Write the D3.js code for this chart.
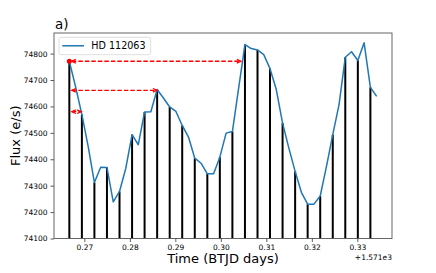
<!DOCTYPE html>
<html>
<head>
<meta charset="utf-8">
<script src="https://cdn.jsdelivr.net/npm/d3@7/dist/d3.min.js"></script>
<style>
   body { margin: 0; background: #fff; }
   text { font-family: "DejaVu Sans", sans-serif; }
</style>
</head>
<body>
<svg id="chart" width="436" height="273"></svg>
<script>
   'use strict';

   // time offset from BTJD 1571 (days)
   const times = [
      0.26670, 0.26808, 0.26946, 0.27084, 0.27221, 0.27359, 0.27497, 0.27635, 0.27773, 0.27911,
      0.28049, 0.28186, 0.28324, 0.28462, 0.28600, 0.28738, 0.28876, 0.29013, 0.29151, 0.29289,
      0.29427, 0.29565, 0.29703, 0.29841, 0.29978, 0.30116, 0.30254, 0.30392, 0.30530, 0.30668,
      0.30806, 0.30943, 0.31081, 0.31219, 0.31357, 0.31495, 0.31633, 0.31770, 0.31908, 0.32046,
      0.32184, 0.32322, 0.32460, 0.32598, 0.32735, 0.32873, 0.33011, 0.33149, 0.33287, 0.33425
   ];

   const flux = [
      74771, 74674, 74569, 74449, 74312, 74370, 74369, 74239, 74278, 74366,
      74493, 74455, 74579, 74580, 74664, 74632, 74598, 74581, 74528, 74484,
      74404, 74385, 74345, 74345, 74408, 74499, 74505, 74670, 74834, 74819,
      74814, 74796, 74743, 74664, 74537, 74442, 74354, 74275, 74230, 74230,
      74261, 74373, 74493, 74607, 74786, 74807, 74774, 74841, 74672, 74638
   ];

   // dashed double arrows: start time, end time, flux level
   const arrows = [
      [0.26670, 0.30494, 74771],
      [0.26670, 0.28650, 74661],
      [0.26670, 0.26985, 74580]
   ];

   const xTicks = [0.27, 0.28, 0.29, 0.30, 0.31, 0.32, 0.33];
   const yTicks = [74100, 74200, 74300, 74400, 74500, 74600, 74700, 74800];
   const seriesName = 'HD 112063';

   const svg = d3.select('#chart'),
      mLeft = 54, mRight = 392, mTop = 33, mBottom = 238.5;

   const x = d3.scaleLinear().domain([0.26333, 0.33762]).range([mLeft, mRight]);
   const y = d3.scaleLinear().domain([74100, 74878]).range([mBottom, mTop]);

   // sampling stems, every other point
   svg.append('g').selectAll('line')
      .data(times.map((t, i) => [t, flux[i]]).filter((d, i) => i % 2 === 0))
      .enter().append('line')
      .attr('x1', d => x(d[0])).attr('x2', d => x(d[0]))
      .attr('y1', y(74100)).attr('y2', d => y(d[1]))
      .attr('stroke', '#000').attr('stroke-width', 2);

   const line = d3.line().x((d, i) => x(times[i])).y(d => y(d));
   svg.append('path').datum(flux)
      .attr('d', line)
      .attr('fill', 'none')
      .attr('stroke', '#1f77b4')
      .attr('stroke-width', 1.5)
      .attr('stroke-linejoin', 'round');

   // arrows
   const red = '#ff0000', shrink = 2.5, head = 4;
   const ag = svg.append('g');
   arrows.forEach(function (a) {
      const x1 = x(a[0]) + shrink, x2 = x(a[1]) - shrink, yy = y(a[2]);
      ag.append('line')
         .attr('x1', x1).attr('x2', x2).attr('y1', yy).attr('y2', yy)
         .attr('stroke', red).attr('stroke-width', 1.3)
         .attr('stroke-dasharray', '4.5,2');
      ag.append('path')
         .attr('d', `M${x1 + head},${yy - 1.8}L${x1},${yy}L${x1 + head},${yy + 1.8}`)
         .attr('fill', 'none').attr('stroke', red).attr('stroke-width', 1.3);
      ag.append('path')
         .attr('d', `M${x2 - head},${yy - 1.8}L${x2},${yy}L${x2 - head},${yy + 1.8}`)
         .attr('fill', 'none').attr('stroke', red).attr('stroke-width', 1.3);
   });
   ag.append('circle')
      .attr('cx', x(times[0])).attr('cy', y(flux[0])).attr('r', 2.5)
      .attr('fill', red);

   // frame
   svg.append('rect')
      .attr('x', mLeft).attr('y', mTop)
      .attr('width', mRight - mLeft).attr('height', mBottom - mTop)
      .attr('fill', 'none').attr('stroke', '#555').attr('stroke-width', 0.9);

   const xAxis = svg.append('g')
      .attr('transform', `translate(0,${mBottom})`)
      .call(d3.axisBottom(x).tickValues(xTicks).tickFormat(d3.format('.2f')).tickSize(3.5).tickPadding(2.5));
   const yAxis = svg.append('g')
      .attr('transform', `translate(${mLeft},0)`)
      .call(d3.axisLeft(y).tickValues(yTicks).tickFormat(d3.format('d')).tickSize(3.5).tickPadding(3));
   [xAxis, yAxis].forEach(function (g) {
      g.select('.domain').remove();
      g.selectAll('line').attr('stroke', '#333').attr('stroke-width', 0.8);
      g.selectAll('text').attr('font-size', 7.5).attr('fill', '#000')
         .attr('font-family', '"DejaVu Sans", sans-serif');
   });

   svg.append('text')
      .attr('x', mRight).attr('y', 259.5)
      .attr('text-anchor', 'end').attr('font-size', 7.5)
      .text('+1.571e3');

   svg.append('text')
      .attr('x', (mLeft + mRight) / 2).attr('y', 263)
      .attr('text-anchor', 'middle').attr('font-size', 13)
      .text('Time (BTJD days)');

   svg.append('text')
      .attr('transform', `translate(20,${(mTop + mBottom) / 2}) rotate(-90)`)
      .attr('text-anchor', 'middle').attr('font-size', 13)
      .text('Flux (e/s)');

   svg.append('text')
      .attr('x', 55).attr('y', 28.5)
      .attr('font-size', 13.5)
      .text('a)');

   // legend
   const lg = svg.append('g');
   lg.append('rect')
      .attr('x', 59).attr('y', 37.3).attr('width', 91.7).attr('height', 17.4)
      .attr('rx', 2).attr('fill', '#fff').attr('fill-opacity', 0.8)
      .attr('stroke', '#d5d5d5').attr('stroke-width', 0.8);
   lg.append('line')
      .attr('x1', 62.3).attr('x2', 84).attr('y1', 45.8).attr('y2', 45.8)
      .attr('stroke', '#1f77b4').attr('stroke-width', 1.5);
   lg.append('text')
      .attr('x', 91.3).attr('y', 49.3)
      .attr('font-size', 9.6)
      .text(seriesName);
</script>
</body>
</html>
